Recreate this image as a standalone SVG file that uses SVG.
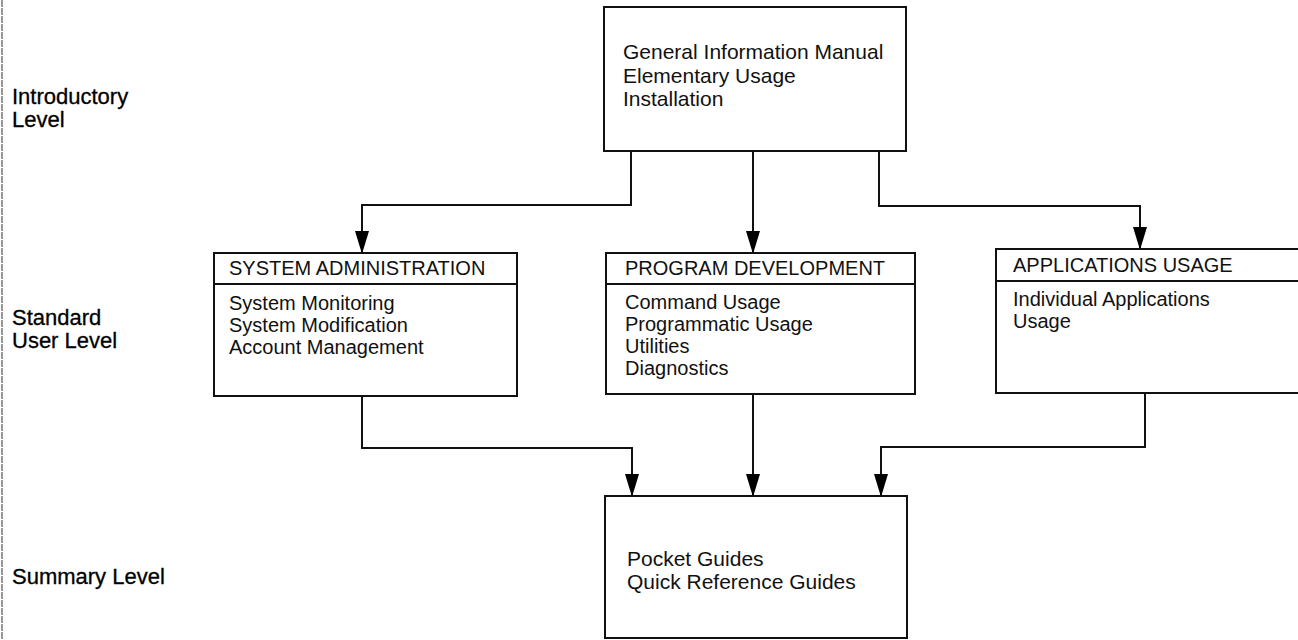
<svg xmlns="http://www.w3.org/2000/svg" width="1298" height="640" viewBox="0 0 1298 640">
<style>
text{font-family:"Liberation Sans",Arial,sans-serif;font-size:20px;fill:#111}
.big{font-size:21px}
.lvl{font-size:22px;fill:#000;stroke:#000;stroke-width:0.3}
.box{fill:#fff;stroke:#111;stroke-width:2}
.ln{fill:none;stroke:#111;stroke-width:2;marker-end:url(#ah)}
.div{stroke:#111;stroke-width:2}
</style>
<defs>
<marker id="ah" markerWidth="23" markerHeight="14" refX="22" refY="7" orient="auto" markerUnits="userSpaceOnUse" viewBox="0 0 23 14">
<path d="M0,0 L23,7 L0,14 Z" fill="#000"/>
</marker>
</defs>
<rect width="1298" height="640" fill="#fff"/>
<line x1="2" y1="0" x2="2" y2="640" stroke="#777" stroke-width="1.5" stroke-dasharray="7 1"/>
<g id="levels">
<text class="lvl" x="12" y="104">Introductory</text>
<text class="lvl" x="12" y="127">Level</text>
<text class="lvl" x="12" y="325">Standard</text>
<text class="lvl" x="12" y="348">User Level</text>
<text class="lvl" x="12" y="584">Summary Level</text>
</g>
<g id="connectors">
<path class="ln" d="M631,151 V205 H362 V253"/>
<path class="ln" d="M753,151 V253"/>
<path class="ln" d="M879,151 V206 H1140 V249"/>
<path class="ln" d="M362,396 V448 H632 V496"/>
<path class="ln" d="M753,394 V496"/>
<path class="ln" d="M1145,393 V447 H881 V496"/>
</g>
<g id="intro">
<rect class="box" x="604" y="7" width="302" height="144"/>
<text class="big" x="623" y="59">General Information Manual</text>
<text class="big" x="623" y="83">Elementary Usage</text>
<text class="big" x="623" y="106">Installation</text>
</g>
<g id="sysadmin">
<rect class="box" x="214" y="253" width="303" height="143"/>
<line class="div" x1="214" y1="284" x2="517" y2="284"/>
<text x="229" y="275">SYSTEM ADMINISTRATION</text>
<text x="229" y="310">System Monitoring</text>
<text x="229" y="332">System Modification</text>
<text x="229" y="354">Account Management</text>
</g>
<g id="progdev">
<rect class="box" x="606" y="253" width="309" height="141"/>
<line class="div" x1="606" y1="284" x2="915" y2="284"/>
<text x="625" y="275">PROGRAM DEVELOPMENT</text>
<text x="625" y="309">Command Usage</text>
<text x="625" y="331">Programmatic Usage</text>
<text x="625" y="353">Utilities</text>
<text x="625" y="375">Diagnostics</text>
</g>
<g id="apps">
<rect class="box" x="996" y="249" width="320" height="144"/>
<line class="div" x1="996" y1="281" x2="1298" y2="281"/>
<text x="1013" y="272">APPLICATIONS USAGE</text>
<text x="1013" y="306">Individual Applications</text>
<text x="1013" y="328">Usage</text>
</g>
<g id="summary">
<rect class="box" x="605" y="496" width="302" height="142"/>
<text class="big" x="627" y="566">Pocket Guides</text>
<text class="big" x="627" y="589">Quick Reference Guides</text>
</g>
</svg>
